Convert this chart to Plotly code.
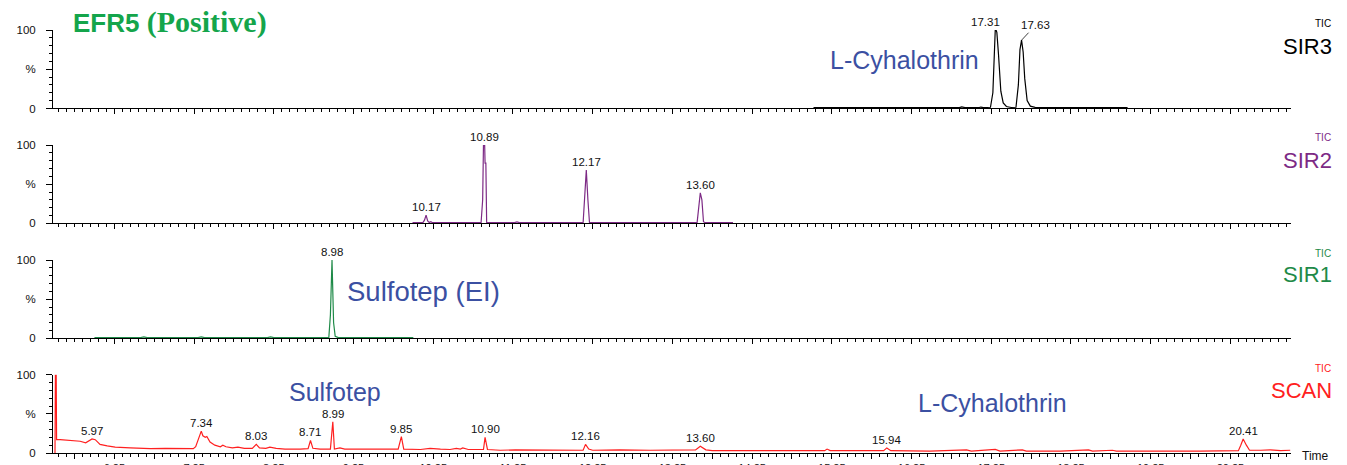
import plotly.graph_objects as go

# ---------------- data ----------------
sir3_t = [15.02, 15.18, 15.20, 15.23, 15.58, 15.61, 15.65, 16.44, 16.47, 16.50, 16.85, 16.88, 16.92,
          17.10, 17.12, 17.15, 17.24, 17.27, 17.29, 17.30, 17.31, 17.32, 17.34, 17.37, 17.40, 17.44,
          17.50, 17.56, 17.59, 17.61, 17.63, 17.65, 17.67, 17.70, 17.74, 17.80, 18.30, 18.68, 18.70,
          18.73, 18.96]
sir3_v = [1, 1, 1.8, 1, 1, 1.8, 1, 1, 1.6, 1, 1, 2, 1,
          1, 1.8, 1, 1.5, 20, 80, 100, 100, 97, 70, 22, 7, 2.5,
          1.2, 1.5, 30, 75, 87, 72, 38, 10, 3, 1.5, 1.2, 1.2, 1.8,
          1.2, 1.2]

sir2_t = [9.99, 10.12, 10.14, 10.16, 10.18, 10.20, 10.22, 10.24, 10.85, 10.87, 10.88, 10.895, 10.90,
          10.91, 10.92, 11.27, 11.30, 11.33, 12.13, 12.15, 12.17, 12.19, 12.21, 13.56, 13.58, 13.60,
          13.62, 13.64, 13.66, 14.01]
sir2_v = [0.8, 0.8, 4, 10.5, 3, 1, 2, 0.8, 0.8, 30, 100, 100, 77,
          77, 0.8, 0.8, 1.8, 0.8, 0.8, 30, 68, 30, 0.8, 0.8, 25, 39,
          30, 2, 0.8, 0.8]

sir1_t = [6.00, 6.58, 6.62, 6.66, 7.30, 7.34, 7.38, 8.17, 8.21, 8.25, 8.94, 8.96, 8.98, 9.00, 9.02,
          9.04, 9.06, 10.00]
sir1_v = [1.0, 1.0, 2.0, 1.0, 1.0, 2.0, 1.0, 1.0, 2.0, 1.0, 1.0, 30, 100, 20, 2.5,
          1.5, 1.0, 1.0]

scan_t = [5.505, 5.51, 5.52, 5.525, 5.57, 5.69, 5.82, 5.89, 5.93, 5.97, 6.01, 6.07, 6.16, 6.26, 6.45,
          6.70, 6.89, 7.07, 7.24, 7.27, 7.34, 7.36, 7.39, 7.41, 7.45, 7.51, 7.58, 7.61, 7.65, 7.73,
          7.80, 7.88, 7.98, 8.03, 8.07, 8.15, 8.20, 8.28, 8.39, 8.58, 8.68, 8.71, 8.74, 8.83, 8.96,
          8.99, 9.01, 9.08, 9.14, 9.46, 9.71, 9.81, 9.85, 9.88, 10.09, 10.21, 10.34, 10.46, 10.54,
          10.59, 10.62, 10.69, 10.88, 10.90, 10.93, 11.09, 11.28, 11.59, 12.13, 12.16, 12.20, 12.25,
          12.59, 12.97, 13.54, 13.60, 13.67, 13.75, 14.60, 15.16, 15.19, 15.23, 15.90, 15.94, 15.99,
          16.48, 16.94, 17.00, 17.30, 17.36, 17.64, 17.69, 17.86, 18.12, 18.47, 18.52, 18.77, 18.82,
          19.87, 20.12, 20.25, 20.35, 20.38, 20.41, 20.45, 20.49, 20.63, 20.75, 20.88, 21.00]
scan_v = [0, 100, 100, 17, 17, 16, 15, 13, 15, 18, 17, 11, 9, 7.5, 6.5,
          5.5, 6, 5.5, 5.5, 8, 28, 22, 20, 21, 14, 10, 8, 10, 8, 6.5,
          7.5, 6, 6, 11, 6.5, 6, 7.5, 6, 5, 5, 5.5, 16, 6, 5, 5,
          40, 5, 6.5, 5, 5, 4.5, 5, 21, 5, 4.5, 6, 5, 4.5, 6,
          5, 6.5, 4.5, 4.5, 20, 4.5, 3.5, 4, 3.5, 3.5, 11, 5, 3.5,
          4, 3.5, 4, 8.5, 4, 3, 3, 3, 5, 3, 3, 6.5, 3,
          2.5, 4, 2.5, 4.5, 2.5, 4, 2.5, 2.5, 2.5, 4, 2.5, 3.5, 2.5,
          2.5, 3, 3.5, 3, 10, 18, 10, 3.5, 3.5, 4, 3, 3.5]

# peak labels
sir3_peaks = [17.31, 17.63]
sir3_labels = ["17.31", "17.63"]
sir2_peaks = [10.16, 10.89, 12.17, 13.60]
sir2_labels = ["10.17", "10.89", "12.17", "13.60"]
sir1_peaks = [8.98]
sir1_labels = ["8.98"]
scan_peaks = [5.97, 7.34, 8.03, 8.71, 8.99, 9.85, 10.90, 12.16, 13.60, 15.94, 20.41]
scan_labels = ["5.97", "7.34", "8.03", "8.71", "8.99", "9.85", "10.90", "12.16", "13.60", "15.94", "20.41"]

# axis ticks
x_major = [5.75 + 0.5 * i for i in range(31)]
x_tick_text = [("%.2f" % v) if abs((v - 0.25) % 1.0) < 1e-6 else "" for v in x_major]
y_ticks = [0, 50, 100]
y_tick_text = ["0", "%", "100"]

channels = ["SIR3", "SIR2", "SIR1", "SCAN"]
colors = ["#000000", "#7d2a85", "#1f8a48", "#ff2020"]

# ---------------- figure ----------------
OFF = 8                      # page body margin in the browser
W, H = 1347 - OFF, 465 - OFF
ML, MT = 53 - OFF, 30 - OFF
PW = 1237.7
PH = 422.7
MR = W - ML - PW
MB = H - MT - PH


def px(xp):   # page pixel -> paper x
    return (xp - OFF - ML) / PW


def py(yp):   # page pixel -> paper y
    return (OFF + MT + PH - yp) / PH


domains = [[0.8145, 1.0], [0.543, 0.728], [0.271, 0.456], [0.0, 0.185]]
series = [(sir3_t, sir3_v), (sir2_t, sir2_v), (sir1_t, sir1_v), (scan_t, scan_v)]
peaks = [(sir3_peaks, sir3_labels), (sir2_peaks, sir2_labels),
         (sir1_peaks, sir1_labels), (scan_peaks, scan_labels)]

fig = go.Figure()
layout = dict(width=W, height=H, margin=dict(l=ML, r=MR, t=MT, b=MB, autoexpand=False),
              paper_bgcolor="white", plot_bgcolor="white", showlegend=False,
              font=dict(family="Liberation Sans, Arial", size=11, color="#111"))
annotations = []

for i, ((t, v), col, dom) in enumerate(zip(series, colors, domains)):
    n = i + 1
    xa = "x" if n == 1 else "x%d" % n
    ya = "y" if n == 1 else "y%d" % n
    fig.add_trace(go.Scatter(x=t, y=v, mode="lines", line=dict(color=col, width=1.2),
                             xaxis=xa, yaxis=ya, hoverinfo="skip"))
    bottom = (i == 3)
    layout["xaxis" if n == 1 else "xaxis%d" % n] = dict(
        domain=[0, 1], anchor=ya, range=[5.48, 21.01], showgrid=False, zeroline=False,
        automargin=False,
        showline=True, linecolor="black", linewidth=1, ticks="outside", ticklen=5,
        tickcolor="black", tickwidth=1, tickvals=x_major, ticktext=x_tick_text,
        showticklabels=bottom, tickfont=dict(size=11, color="#111"),
        minor=dict(tick0=0.05, dtick=0.1, ticklen=3, tickcolor="black", ticks="outside",
                   showgrid=False))
    layout["yaxis" if n == 1 else "yaxis%d" % n] = dict(
        domain=dom, anchor=xa, range=[0, 100], showgrid=False, zeroline=False,
        automargin=False,
        showline=True, linecolor="black", linewidth=1, ticks="outside", ticklen=6,
        tickcolor="black", tickwidth=1, tickvals=y_ticks, ticktext=y_tick_text,
        ticklabelstandoff=8, tickfont=dict(size=11.5, color="#111"),
        minor=dict(dtick=10, ticklen=3, tickcolor="black", ticks="outside", showgrid=False))

    # peak labels, height derived from the trace
    for pt, lab in zip(*peaks[i]):
        h = max(vv for tt, vv in zip(t, v) if abs(tt - pt) <= 0.05)
        ann = dict(x=pt, y=h, xref=xa, yref=ya, text=lab, showarrow=False,
                   yanchor="bottom", yshift=0, font=dict(size=11.5, color="#111"))
        if lab == "17.31":
            ann["xshift"] = -11
        if lab == "17.63":
            ann.update(showarrow=True, arrowhead=0, arrowwidth=0.8, arrowcolor="#111",
                       ax=14, ay=-15)
            ann.pop("yanchor")
        annotations.append(ann)

# right-hand channel labels
tic_y = [24, 137.5, 253, 368]
name_y = [46, 160, 274, 390]
for name, col, ty, ny in zip(channels, colors, tic_y, name_y):
    annotations.append(dict(x=px(1333), y=py(ty), xref="paper", yref="paper", text="TIC",
                            showarrow=False, xanchor="right", yanchor="middle",
                            font=dict(size=10, color=col)))
    annotations.append(dict(x=px(1334), y=py(ny), xref="paper", yref="paper", text=name,
                            showarrow=False, xanchor="right", yanchor="middle",
                            font=dict(size=22, color=col)))

# compound names
blue = "#3b50a2"
for txt, cx, cy, fs in [("L-Cyhalothrin", 904, 60, 25), ("Sulfotep (EI)", 423, 291, 27.5),
                        ("Sulfotep", 335, 392, 25), ("L-Cyhalothrin", 992, 403, 25)]:
    annotations.append(dict(x=px(cx), y=py(cy), xref="paper", yref="paper", text=txt,
                            showarrow=False, xanchor="center", yanchor="middle",
                            font=dict(size=fs, color=blue)))

# title
annotations.append(dict(
    x=px(71), y=py(22), xref="paper", yref="paper", showarrow=False,
    xanchor="left", yanchor="middle",
    text="<b>EFR5 </b><b><span style='font-family:Liberation Serif;font-size:30px'>(Positive)</span></b>",
    font=dict(size=26, color="#14a54b", family="Liberation Sans, Arial")))

annotations.append(dict(x=px(1300), y=py(456), xref="paper", yref="paper", text="Time",
                        showarrow=False, xanchor="left", yanchor="middle",
                        font=dict(size=12, color="#111")))

layout["annotations"] = annotations
fig.update_layout(**layout)
fig.write_html("out.html")
